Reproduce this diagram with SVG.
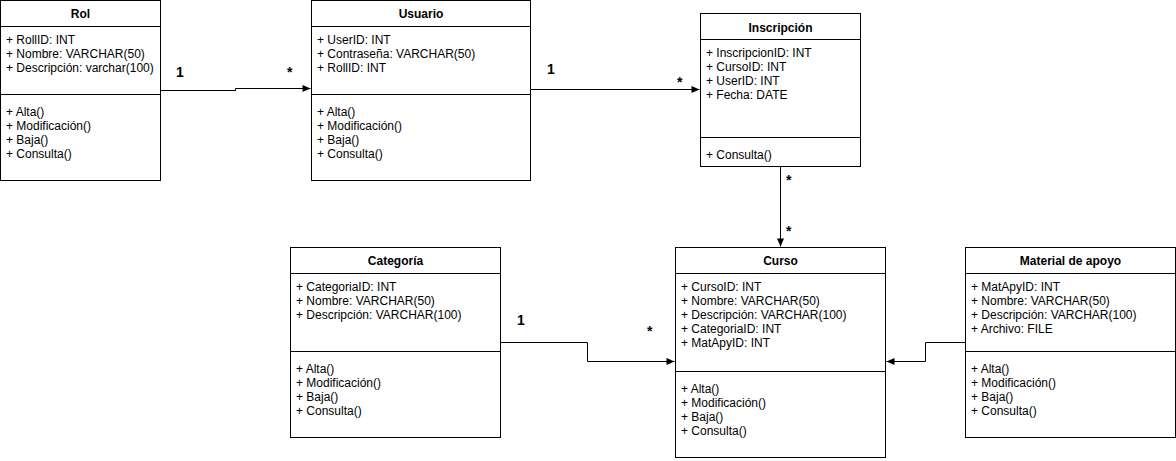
<svg xmlns="http://www.w3.org/2000/svg" width="1176" height="461" viewBox="0 0 1176 461">
<style>
.box{fill:#fff;stroke:#000;stroke-width:1}
.sep{stroke:#000;stroke-width:1}
.t{font-family:"Liberation Sans",Arial,sans-serif;font-size:12px;fill:#000}
.title{font-family:"Liberation Sans",Arial,sans-serif;font-size:12px;font-weight:bold;fill:#000;text-anchor:middle}
.lbl{font-family:"Liberation Sans",Arial,sans-serif;font-size:14px;font-weight:bold;fill:#000}
.edge{fill:none;stroke:#000;stroke-width:1}
</style>
<defs>
<marker id="arr" markerUnits="userSpaceOnUse" markerWidth="10" markerHeight="10" viewBox="0 0 10 10" refX="9" refY="5" orient="auto">
<path d="M1,1.5 L9,5 L1,8.5 Z" fill="#000"/>
</marker>
</defs>
<rect width="1176" height="461" fill="#fff"/>
<g id="edges">
<path class="edge" d="M160.5,90.5 H235.5 V88.5 H310.5" marker-end="url(#arr)"/>
<path class="edge" d="M530.5,89.5 H699.5" marker-end="url(#arr)"/>
<path class="edge" d="M780.5,166.5 V246.5" marker-end="url(#arr)"/>
<path class="edge" d="M500.5,342.5 H587.5 V361.5 H674.5" marker-end="url(#arr)"/>
<path class="edge" d="M965.5,342.5 H925.5 V361.5 H886.5" marker-end="url(#arr)"/>
<text class="lbl" x="176" y="77">1</text>
<text class="lbl" x="287" y="77">*</text>
<text class="lbl" x="547" y="74">1</text>
<text class="lbl" x="677" y="87">*</text>
<text class="lbl" x="786" y="185">*</text>
<text class="lbl" x="786" y="236">*</text>
<text class="lbl" x="517" y="325">1</text>
<text class="lbl" x="647" y="336">*</text>
</g>
<g id="rol">
<rect class="box" x="0.5" y="0.5" width="160" height="180"/>
<line class="sep" x1="0.5" y1="26.5" x2="160.5" y2="26.5"/>
<line class="sep" x1="0.5" y1="94.5" x2="160.5" y2="94.5"/>
<text class="title" x="80.5" y="18">Rol</text>
<text class="t" x="6" y="44">+ RollID: INT</text>
<text class="t" x="6" y="58">+ Nombre: VARCHAR(50)</text>
<text class="t" x="6" y="72">+ Descripción: varchar(100)</text>
<text class="t" x="6" y="115.5">+ Alta()</text>
<text class="t" x="6" y="129.5">+ Modificación()</text>
<text class="t" x="6" y="143.5">+ Baja()</text>
<text class="t" x="6" y="157.5">+ Consulta()</text>
</g>
<g id="usuario">
<rect class="box" x="311.5" y="0.5" width="219" height="180"/>
<line class="sep" x1="311.5" y1="26.5" x2="530.5" y2="26.5"/>
<line class="sep" x1="311.5" y1="94.5" x2="530.5" y2="94.5"/>
<text class="title" x="421" y="18">Usuario</text>
<text class="t" x="317" y="44">+ UserID: INT</text>
<text class="t" x="317" y="58">+ Contraseña: VARCHAR(50)</text>
<text class="t" x="317" y="72">+ RollID: INT</text>
<text class="t" x="317" y="115.5">+ Alta()</text>
<text class="t" x="317" y="129.5">+ Modificación()</text>
<text class="t" x="317" y="143.5">+ Baja()</text>
<text class="t" x="317" y="157.5">+ Consulta()</text>
</g>
<g id="inscripcion">
<rect class="box" x="700.5" y="13.5" width="160" height="153"/>
<line class="sep" x1="700.5" y1="39.5" x2="860.5" y2="39.5"/>
<line class="sep" x1="700.5" y1="137.5" x2="860.5" y2="137.5"/>
<text class="title" x="780.5" y="31.5">Inscripción</text>
<text class="t" x="706" y="57">+ InscripcionID: INT</text>
<text class="t" x="706" y="71">+ CursoID: INT</text>
<text class="t" x="706" y="85">+ UserID: INT</text>
<text class="t" x="706" y="99">+ Fecha: DATE</text>
<text class="t" x="706" y="158.5">+ Consulta()</text>
</g>
<g id="categoria">
<rect class="box" x="290.5" y="247.5" width="210" height="190"/>
<line class="sep" x1="290.5" y1="273.5" x2="500.5" y2="273.5"/>
<line class="sep" x1="290.5" y1="351.5" x2="500.5" y2="351.5"/>
<text class="title" x="395.5" y="265">Categoría</text>
<text class="t" x="296" y="291">+ CategoriaID: INT</text>
<text class="t" x="296" y="305">+ Nombre: VARCHAR(50)</text>
<text class="t" x="296" y="319">+ Descripción: VARCHAR(100)</text>
<text class="t" x="296" y="372.5">+ Alta()</text>
<text class="t" x="296" y="386.5">+ Modificación()</text>
<text class="t" x="296" y="400.5">+ Baja()</text>
<text class="t" x="296" y="414.5">+ Consulta()</text>
</g>
<g id="curso">
<rect class="box" x="675.5" y="247.5" width="210" height="210"/>
<line class="sep" x1="675.5" y1="273.5" x2="885.5" y2="273.5"/>
<line class="sep" x1="675.5" y1="371.5" x2="885.5" y2="371.5"/>
<text class="title" x="780.5" y="265">Curso</text>
<text class="t" x="681" y="291">+ CursoID: INT</text>
<text class="t" x="681" y="305">+ Nombre: VARCHAR(50)</text>
<text class="t" x="681" y="319">+ Descripción: VARCHAR(100)</text>
<text class="t" x="681" y="333">+ CategoriaID: INT</text>
<text class="t" x="681" y="347">+ MatApyID: INT</text>
<text class="t" x="681" y="392.5">+ Alta()</text>
<text class="t" x="681" y="406.5">+ Modificación()</text>
<text class="t" x="681" y="420.5">+ Baja()</text>
<text class="t" x="681" y="434.5">+ Consulta()</text>
</g>
<g id="material">
<rect class="box" x="965.5" y="247.5" width="210" height="190"/>
<line class="sep" x1="965.5" y1="273.5" x2="1175.5" y2="273.5"/>
<line class="sep" x1="965.5" y1="351.5" x2="1175.5" y2="351.5"/>
<text class="title" x="1070.5" y="265">Material de apoyo</text>
<text class="t" x="971" y="291">+ MatApyID: INT</text>
<text class="t" x="971" y="305">+ Nombre: VARCHAR(50)</text>
<text class="t" x="971" y="319">+ Descripción: VARCHAR(100)</text>
<text class="t" x="971" y="333">+ Archivo: FILE</text>
<text class="t" x="971" y="372.5">+ Alta()</text>
<text class="t" x="971" y="386.5">+ Modificación()</text>
<text class="t" x="971" y="400.5">+ Baja()</text>
<text class="t" x="971" y="414.5">+ Consulta()</text>
</g>
</svg>
